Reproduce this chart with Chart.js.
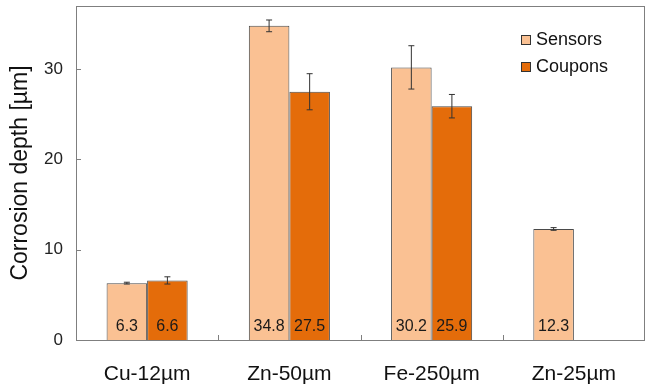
<!DOCTYPE html>
<html><head><meta charset="utf-8">
<script src="https://cdn.jsdelivr.net/npm/chart.js@4/dist/chart.umd.min.js"></script>
<style>html,body{margin:0;padding:0;background:#fff}#wrap{width:650px;height:391px}</style>
</head><body><div id="wrap"><canvas id="c"></canvas></div>
<script>
const categories = ["Cu-12µm", "Zn-50µm", "Fe-250µm", "Zn-25µm"];
const sensors = [6.3, 34.8, 30.2, 12.3];
const coupons = [6.6, 27.5, 25.9, null];
const sensorsErr = [0.1, 0.65, 2.4, 0.15];
const couponsErr = [0.4, 2.0, 1.3, null];
const yTicks = [0, 10, 20, 30];
const FONT = "'Liberation Sans', Arial, sans-serif";

const errPlugin = {
  id: 'extras',
  afterDatasetsDraw(chart) {
    const ctx = chart.ctx, y = chart.scales.y, x = chart.scales.x, a = chart.chartArea;
    const errs = [sensorsErr, couponsErr];
    chart.data.datasets.forEach((ds, di) => {
      const meta = chart.getDatasetMeta(di);
      meta.data.forEach((el, i) => {
        const v = ds.data[i];
        if (v == null) return;
        const e = errs[di][i];
        ctx.save();
        ctx.fillStyle = '#1a1a1a';
        ctx.font = '16px ' + FONT;
        ctx.textAlign = 'center';
        ctx.textBaseline = 'middle';
        ctx.fillText(v.toFixed(1), el.x, a.bottom - 13);
        ctx.restore();
        if (e) {
          const yt = y.getPixelForValue(v + e), yb = y.getPixelForValue(v - e);
          ctx.save();
          ctx.strokeStyle = '#333';
          ctx.lineWidth = 1;
          ctx.beginPath();
          ctx.moveTo(el.x, yt); ctx.lineTo(el.x, yb);
          ctx.moveTo(el.x - 3, yt); ctx.lineTo(el.x + 3, yt);
          ctx.moveTo(el.x - 3, yb); ctx.lineTo(el.x + 3, yb);
          ctx.stroke();
          ctx.restore();
        }
      });
    });
    ctx.save();
    ctx.strokeStyle = '#7f7f7f';
    ctx.lineWidth = 1;
    ctx.strokeRect(Math.round(a.left) + 0.5, Math.round(a.top) + 0.5, Math.round(a.right - a.left) - 1, Math.round(a.bottom - a.top));
    ctx.beginPath();
    yTicks.forEach(v => {
      const py = Math.round(y.getPixelForValue(v)) + 0.5;
      ctx.moveTo(a.left, py); ctx.lineTo(a.left + 5, py);
    });
    for (let i = 0; i < categories.length - 1; i++) {
      const px = Math.round((x.getPixelForValue(i) + x.getPixelForValue(i + 1)) / 2) + 0.5;
      ctx.moveTo(px, a.bottom); ctx.lineTo(px, a.bottom - 5);
    }
    ctx.stroke();
    ctx.restore();
    ctx.save();
    chart.data.datasets.forEach((ds, di) => {
      const ly = 40 + di * 27;
      ctx.fillStyle = ds.backgroundColor;
      ctx.strokeStyle = '#333';
      ctx.lineWidth = 1;
      ctx.fillRect(521, ly - 5, 10, 10);
      ctx.strokeRect(521.5, ly - 4.5, 9, 9);
      ctx.fillStyle = '#111';
      ctx.font = '18px ' + FONT;
      ctx.textAlign = 'left';
      ctx.textBaseline = 'middle';
      ctx.fillText(ds.label, 536, ly);
    });
    ctx.restore();
  }
};

new Chart(document.getElementById('c'), {
  type: 'bar',
  data: {
    labels: categories,
    datasets: [
      { label: 'Sensors', data: sensors, backgroundColor: '#FAC193', borderColor: '#4a4a4a', borderWidth: 1 },
      { label: 'Coupons', data: coupons, backgroundColor: '#E46C0A', borderColor: '#4a4a4a', borderWidth: 1 }
    ]
  },
  options: {
    responsive: true,
    maintainAspectRatio: false,
    animation: false,
    devicePixelRatio: 1,
    layout: { padding: { top: 6, right: 5, left: 0, bottom: 0 } },
    plugins: { legend: { display: false }, tooltip: { enabled: false } },
    datasets: { bar: { categoryPercentage: 0.57, barPercentage: 1.0 } },
    scales: {
      x: {
        grid: { display: false, drawTicks: false },
        border: { display: false },
        ticks: { color: '#111', font: { family: FONT, size: 21 }, padding: 22, maxRotation: 0 },
        afterFit(s) { s.height = 51; s.paddingLeft = 0; s.paddingRight = 0; }
      },
      y: {
        min: 0, max: 37,
        grid: { display: false, drawTicks: false },
        border: { display: false },
        ticks: { color: '#222', font: { family: FONT, size: 17 }, padding: 13, stepSize: 10 },
        afterBuildTicks(s) { s.ticks = s.ticks.filter(t => yTicks.includes(t.value)); },
        title: { display: true, text: 'Corrosion depth [µm]', color: '#111', font: { family: FONT, size: 23 }, padding: { top: 7, bottom: 0 } },
        afterFit(s) { s.width = 76; s.paddingTop = 0; s.paddingBottom = 0; }
      }
    }
  },
  plugins: [errPlugin]
});
</script></body></html>
